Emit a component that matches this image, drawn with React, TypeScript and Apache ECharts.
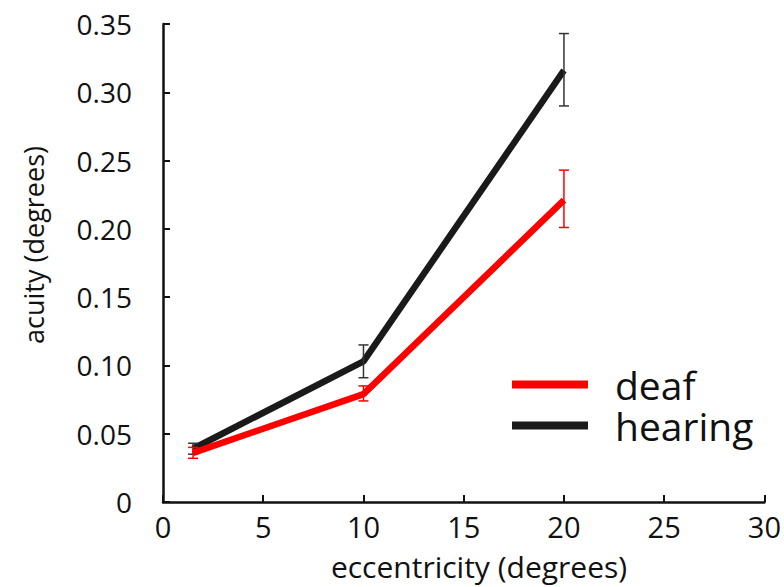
import React, { useEffect, useRef } from "react";
import * as echarts from "echarts";

const eccentricity = [1.5, 10, 20];
const deafAcuity = [0.036, 0.079, 0.221];
const hearingAcuity = [0.039, 0.103, 0.316];
const deafLow = [0.032, 0.074, 0.201];
const deafHigh = [0.040, 0.085, 0.243];
const hearingLow = [0.035, 0.091, 0.290];
const hearingHigh = [0.043, 0.115, 0.343];
const xTicks = [0, 5, 10, 15, 20, 25, 30];
const yTicks = [0, 0.05, 0.1, 0.15, 0.2, 0.25, 0.3, 0.35];
const xTitle = "eccentricity (degrees)";
const yTitle = "acuity (degrees)";

const FONT = "Open Sans";

function errorSeries(name: string, lows: number[], highs: number[], color: string, z: number) {
  const data = eccentricity.map((x, i) => [x, lows[i], highs[i]]);
  return {
    type: "custom",
    name: name + "-err",
    z,
    silent: true,
    data,
    renderItem: (params: any, api: any) => {
      const x = api.value(0);
      const lo = api.coord([x, api.value(1)]);
      const hi = api.coord([x, api.value(2)]);
      const half = 5;
      const style = { stroke: color, lineWidth: 1.5 };
      return {
        type: "group",
        children: [
          { type: "line", shape: { x1: lo[0], y1: lo[1], x2: hi[0], y2: hi[1] }, style },
          { type: "line", shape: { x1: lo[0] - half, y1: lo[1], x2: lo[0] + half, y2: lo[1] }, style },
          { type: "line", shape: { x1: hi[0] - half, y1: hi[1], x2: hi[0] + half, y2: hi[1] }, style },
        ],
      };
    },
  };
}

export default function App() {
  const ref = useRef<HTMLDivElement>(null);
  useEffect(() => {
    if (!ref.current) return;
    const chart = echarts.init(ref.current, undefined, { renderer: "svg" });
    chart.setOption({
      animation: false,
      backgroundColor: "#ffffff",
      textStyle: { fontFamily: FONT },
      grid: { left: 163, right: 16, top: 24, bottom: 85, containLabel: false },
      legend: {
        orient: "vertical",
        left: 512,
        top: 365,
        icon: "rect",
        itemWidth: 76,
        itemHeight: 8,
        itemGap: 2,
        padding: 0,
        data: ["deaf", "hearing"],
        textStyle: { fontFamily: FONT, fontSize: 39, lineHeight: 38, color: "#111", padding: [0, 0, 0, 22] },
        selectedMode: false,
      },
      graphic: [
        {
          type: "text",
          x: 479,
          y: 566,
          style: {
            text: xTitle,
            fontFamily: FONT,
            fontSize: 30,
            fill: "#111",
            align: "center",
            verticalAlign: "middle",
          },
        },
        {
          type: "text",
          x: 33,
          y: 245,
          rotation: Math.PI / 2,
          style: {
            text: yTitle,
            fontFamily: FONT,
            fontSize: 27,
            fill: "#111",
            align: "center",
            verticalAlign: "middle",
          },
        },
      ],
      xAxis: {
        type: "value",
        min: 0,
        max: 30,
        interval: 5,
        axisLine: { lineStyle: { color: "#111", width: 2.5 } },
        axisTick: { inside: true, length: 7, lineStyle: { color: "#111", width: 2 } },
        axisLabel: {
          fontFamily: FONT,
          fontSize: 29,
          color: "#111",
          margin: 10,
          formatter: (v: number) => (xTicks.includes(v) ? String(v) : ""),
        },
        splitLine: { show: false },
      },
      yAxis: {
        type: "value",
        min: 0,
        max: 0.35,
        interval: 0.05,
        axisLine: { show: true, lineStyle: { color: "#111", width: 2.5 } },
        axisTick: { show: true, inside: true, length: 7, lineStyle: { color: "#111", width: 2 } },
        axisLabel: {
          fontFamily: FONT,
          fontSize: 28,
          color: "#111",
          margin: 31,
          formatter: (v: number) => {
            const t = yTicks.find((y) => Math.abs(y - v) < 1e-9);
            if (t === undefined) return "";
            return t === 0 ? "0" : t.toFixed(2);
          },
        },
        splitLine: { show: false },
      },
      series: [
        {
          type: "line",
          name: "hearing",
          data: eccentricity.map((x, i) => [x, hearingAcuity[i]]),
          symbol: "none",
          color: "#1a1a1a",
          lineStyle: { color: "#1a1a1a", width: 6.5 },
          z: 3,
        },
        errorSeries("hearing", hearingLow, hearingHigh, "#333333", 4),
        {
          type: "line",
          name: "deaf",
          data: eccentricity.map((x, i) => [x, deafAcuity[i]]),
          symbol: "none",
          color: "#ff0000",
          lineStyle: { color: "#ff0000", width: 6.5 },
          z: 5,
        },
        errorSeries("deaf", deafLow, deafHigh, "#ff0000", 6),
      ],
    });
    return () => chart.dispose();
  }, []);
  return <div ref={ref} style={{ width: 784, height: 587, position: "absolute", left: 0, top: 0 }} />;
}
